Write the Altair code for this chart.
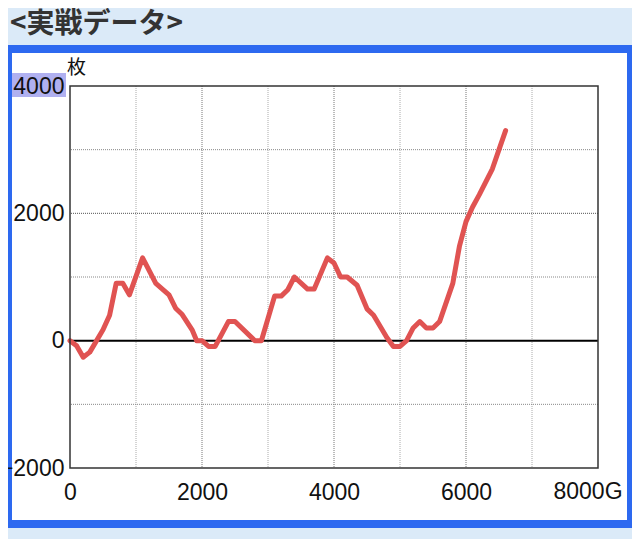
import altair as alt
import pandas as pd

# ---- data ----
games = [0, 100, 200, 300, 500, 600, 700, 800, 900, 1100,
         1300, 1500, 1600, 1700, 1850, 1920, 2000, 2100, 2200, 2400,
         2500, 2800, 2900, 3100, 3200, 3300, 3400, 3600, 3700, 3900,
         4000, 4100, 4200, 4350, 4500, 4600, 4800, 4900, 5000, 5100,
         5200, 5300, 5400, 5500, 5600, 5800, 5900, 6000, 6100, 6200,
         6400, 6500, 6600]
coins = [0, -80, -260, -180, 170, 400, 900, 900, 720, 1300,
         900, 720, 510, 410, 170, 0, 0, -90, -90, 300,
         300, 0, 0, 700, 700, 800, 1000, 810, 810, 1300,
         1220, 1000, 1000, 870, 500, 400, 50, -90, -90, 0,
         200, 300, 200, 200, 300, 900, 1480, 1870, 2100, 2290,
         2700, 3000, 3300]

x_ticks = [0, 2000, 4000, 6000]
x_last_label = "8000G"
x_last_value = 8000
y_ticks = [-2000, 0, 2000, 4000]
x_grid_major = [2000, 4000, 6000]
x_grid_minor = [1000, 3000, 5000, 7000]
y_grid_major = [2000]
y_grid_minor = [-1000, 1000, 3000]
title_text = "<実戦データ>"
unit_text = "枚"

W, H = 528, 382
FONT = "Liberation Sans"
FS = 23

df = pd.DataFrame({"G": games, "V": coins})
one = pd.DataFrame({"k": [0]})

xs = alt.Scale(domain=[0, 8000], nice=False, zero=False)
ys = alt.Scale(domain=[-2000, 4000], nice=False, zero=False)

x_axis = alt.Axis(values=x_ticks, title=None, grid=False, domain=False,
                  ticks=False, tickSize=0, labelPadding=13, format="d",
                  labelFlush=False, labelFont=FONT, labelFontSize=FS,
                  labelColor="#111", zindex=1, labelOverlap=False)
y_axis = alt.Axis(values=y_ticks, title=None, grid=False, domain=False,
                  ticks=False, tickSize=0, labelPadding=6, format="d",
                  labelFont=FONT, labelFontSize=FS, labelColor="#111",
                  zindex=1, labelOverlap=False)

blue = alt.Chart(one).mark_rect(color="#2d69f0").encode(
    x=alt.value(-62), x2=alt.value(562), y=alt.value(-41), y2=alt.value(442))
white = alt.Chart(one).mark_rect(color="#ffffff").encode(
    x=alt.value(-58), x2=alt.value(557), y=alt.value(-33), y2=alt.value(434))
hilite = alt.Chart(one).mark_rect(color="#b0b0f0").encode(
    x=alt.value(-58), x2=alt.value(-4), y=alt.value(-13), y2=alt.value(11))

gx_major = alt.Chart(pd.DataFrame({"G": x_grid_major})).mark_rule(
    color="#777", strokeDash=[1, 1], strokeWidth=1).encode(
    x=alt.X("G:Q", scale=xs, axis=x_axis))
gx_minor = alt.Chart(pd.DataFrame({"G": x_grid_minor})).mark_rule(
    color="#aaa", strokeDash=[1, 1], strokeWidth=1).encode(
    x=alt.X("G:Q", scale=xs, axis=x_axis))
gy_major = alt.Chart(pd.DataFrame({"V": y_grid_major})).mark_rule(
    color="#555", strokeDash=[1, 1], strokeWidth=1).encode(
    y=alt.Y("V:Q", scale=ys, axis=y_axis))
gy_minor = alt.Chart(pd.DataFrame({"V": y_grid_minor})).mark_rule(
    color="#888", strokeDash=[1, 1], strokeWidth=1).encode(
    y=alt.Y("V:Q", scale=ys, axis=y_axis))
zero = alt.Chart(pd.DataFrame({"V": [0]})).mark_rule(
    color="#000", strokeWidth=2).encode(
    y=alt.Y("V:Q", scale=ys, axis=y_axis))

line = alt.Chart(df).mark_line(
    color="#e05352", strokeWidth=5, strokeJoin="round", strokeCap="round").encode(
    x=alt.X("G:Q", scale=xs, axis=x_axis),
    y=alt.Y("V:Q", scale=ys, axis=y_axis),
)

border = alt.Chart(one).mark_rect(fillOpacity=0, stroke="#333", strokeWidth=1.5).encode(
    x=alt.value(0), x2=alt.value(W), y=alt.value(0), y2=alt.value(H))

last_lbl = alt.Chart(pd.DataFrame({"G": [x_last_value], "t": [x_last_label]})).mark_text(
    font=FONT, fontSize=FS, color="#111", align="center", baseline="middle", dx=-10).encode(
    x=alt.X("G:Q", scale=xs, axis=x_axis), y=alt.value(406), text="t:N")

title = alt.Chart(pd.DataFrame({"t": [title_text]})).mark_text(
    font="Noto Sans CJK JP", fontSize=28, fontWeight="bold", color="#333",
    align="left", baseline="middle").encode(
    x=alt.value(-60), y=alt.value(-61), text="t:N")
unit = alt.Chart(pd.DataFrame({"t": [unit_text]})).mark_text(
    font="Noto Sans CJK JP", fontSize=19, color="#111",
    align="left", baseline="middle").encode(
    x=alt.value(-3), y=alt.value(-18), text="t:N")

chart = alt.layer(
    blue, white, hilite, gx_minor, gx_major, gy_minor, gy_major, zero,
    line, border, last_lbl, title, unit
).properties(
    width=W, height=H,
    autosize=alt.AutoSizeParams(type="none"),
    padding={"left": 62, "top": 78, "right": 34, "bottom": 71},
    background="#dbeaf8",
).configure_view(stroke=None)

chart.save("out.html", embed_options={"renderer": "svg", "actions": False})
